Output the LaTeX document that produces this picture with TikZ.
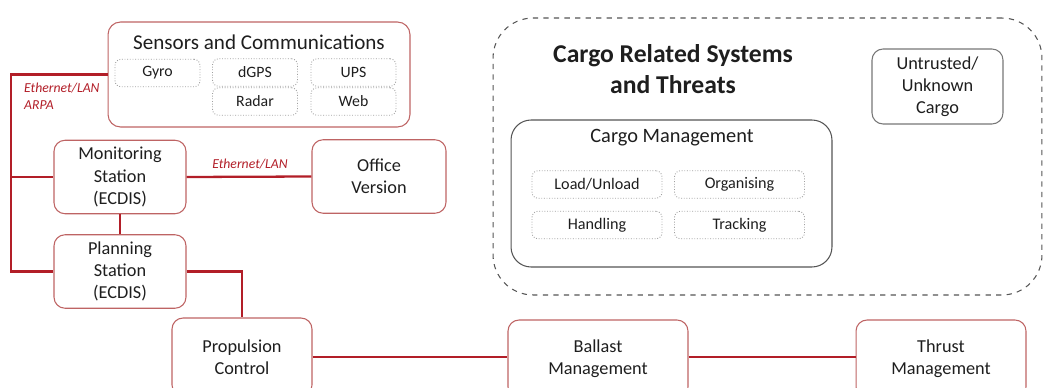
\documentclass[tikz,border=0pt]{standalone}
\usepackage{fontspec}
\setmainfont{Carlito}
\definecolor{linkred}{RGB}{178,30,40}
\definecolor{boxred}{RGB}{190,100,100}
\definecolor{boxgray}{RGB}{85,85,85}
\definecolor{txt}{RGB}{30,30,30}

\begin{document}
\begin{tikzpicture}[x=0.02cm,y=-0.02cm,
    unit/.style={draw=boxred,line width=0.6pt,rounded corners=0.22cm,align=center,text=txt,inner sep=0pt,
        minimum width=2.64cm,minimum height=1.47cm,font=\fontsize{10.4}{12.6}\selectfont},
    item/.style={draw=gray!75,densely dotted,line width=0.5pt,rounded corners=0.12cm,inner sep=0pt,text=txt,
        minimum width=1.7cm,minimum height=0.55cm,font=\fontsize{9}{11}\selectfont},
    cargoitem/.style={item,minimum width=2.6cm,font=\fontsize{9.2}{11}\selectfont},
    link/.style={draw=linkred,line width=1.3pt},
    linklabel/.style={text=linkred,align=left,font=\fontsize{7.8}{9.6}\selectfont\itshape}]
    \useasboundingbox (0,0) rectangle (1044,388);

    % sensors
    \node[draw=boxred,line width=0.6pt,rounded corners=0.25cm,minimum width=6.04cm,minimum height=2.1cm,inner sep=0pt] (sens) at (259,74.5) {};
    \node[text=txt,font=\fontsize{12}{14}\selectfont] (senstitle) at (259,42) {Sensors and Communications};
    \node[item] (gyro) at (157.5,73) {Gyro};
    \node[item] (dgps) at (255,72.5) {dGPS};
    \node[item] (radar) at (255,101.5) {Radar};
    \node[item] (ups) at (353.5,72.5) {UPS};
    \node[item] (web) at (353.5,101.5) {Web};

    % ship systems
    \node[unit] (mon) at (120,177) {Monitoring\\Station\\(ECDIS)};
    \node[unit,minimum width=2.68cm] (office) at (379,176.5) {Office\\Version};
    \node[unit] (plan) at (120,271.5) {Planning\\Station\\(ECDIS)};
    \node[unit,minimum width=2.8cm,minimum height=1.56cm] (prop) at (242,357) {Propulsion\\Control};
    \node[unit,minimum width=3.6cm,minimum height=1.56cm] (ballast) at (598,359) {Ballast\\Management};
    \node[unit,minimum width=3.4cm,minimum height=1.56cm] (thrust) at (941,359) {Thrust\\Management};

    % cargo
    \node[draw=boxgray,dashed,line width=0.6pt,rounded corners=0.8cm,minimum width=10.98cm,minimum height=5.54cm,inner sep=0pt] (cargo) at (767.5,156.5) {};
    \node[text=txt,align=center,font=\fontsize{14.6}{18}\selectfont\bfseries] (cargotitle) at (673,69) {Cargo Related Systems\\and Threats};
    \node[unit,draw=boxgray!80,minimum width=2.62cm,minimum height=1.5cm] (untrusted) at (937.5,86.5) {Untrusted/\\Unknown\\Cargo};
    \node[draw=boxgray,line width=0.6pt,rounded corners=0.4cm,minimum width=6.42cm,minimum height=2.94cm,inner sep=0pt] (cmgmt) at (671.5,193.5) {};
    \node[text=txt,font=\fontsize{11.6}{14}\selectfont] (cmgmttitle) at (672,138) {Cargo Management};
    \node[cargoitem] (load) at (597,184.5) {Load/Unload};
    \node[cargoitem] (organise) at (739.5,184.5) {Organising};
    \node[cargoitem] (handling) at (597,225) {Handling};
    \node[cargoitem] (tracking) at (739.5,225) {Tracking};

    % network
    \coordinate (bus) at (11,73);
    \draw[link] (sens.west) -- (sens.west -| bus) |- (plan.west);
    \draw[link] (mon.west -| bus) -- (mon.west);
    \node[linklabel,anchor=west] (arpa) at (18,96.5) {Ethernet/LAN\\ARPA};
    \draw[link] (mon.east) -- (office.west);
    \node[linklabel] (lan) at (250,164) {Ethernet/LAN};
    \draw[link] (mon.south) -- (plan.north);
    \draw[link] (plan.east) -| (prop.north);
    \draw[link] (prop.east) -- (prop.east -| ballast.west);
    \draw[link] (prop.east -| ballast.east) -- (prop.east -| thrust.west);
\end{tikzpicture}
\end{document}
